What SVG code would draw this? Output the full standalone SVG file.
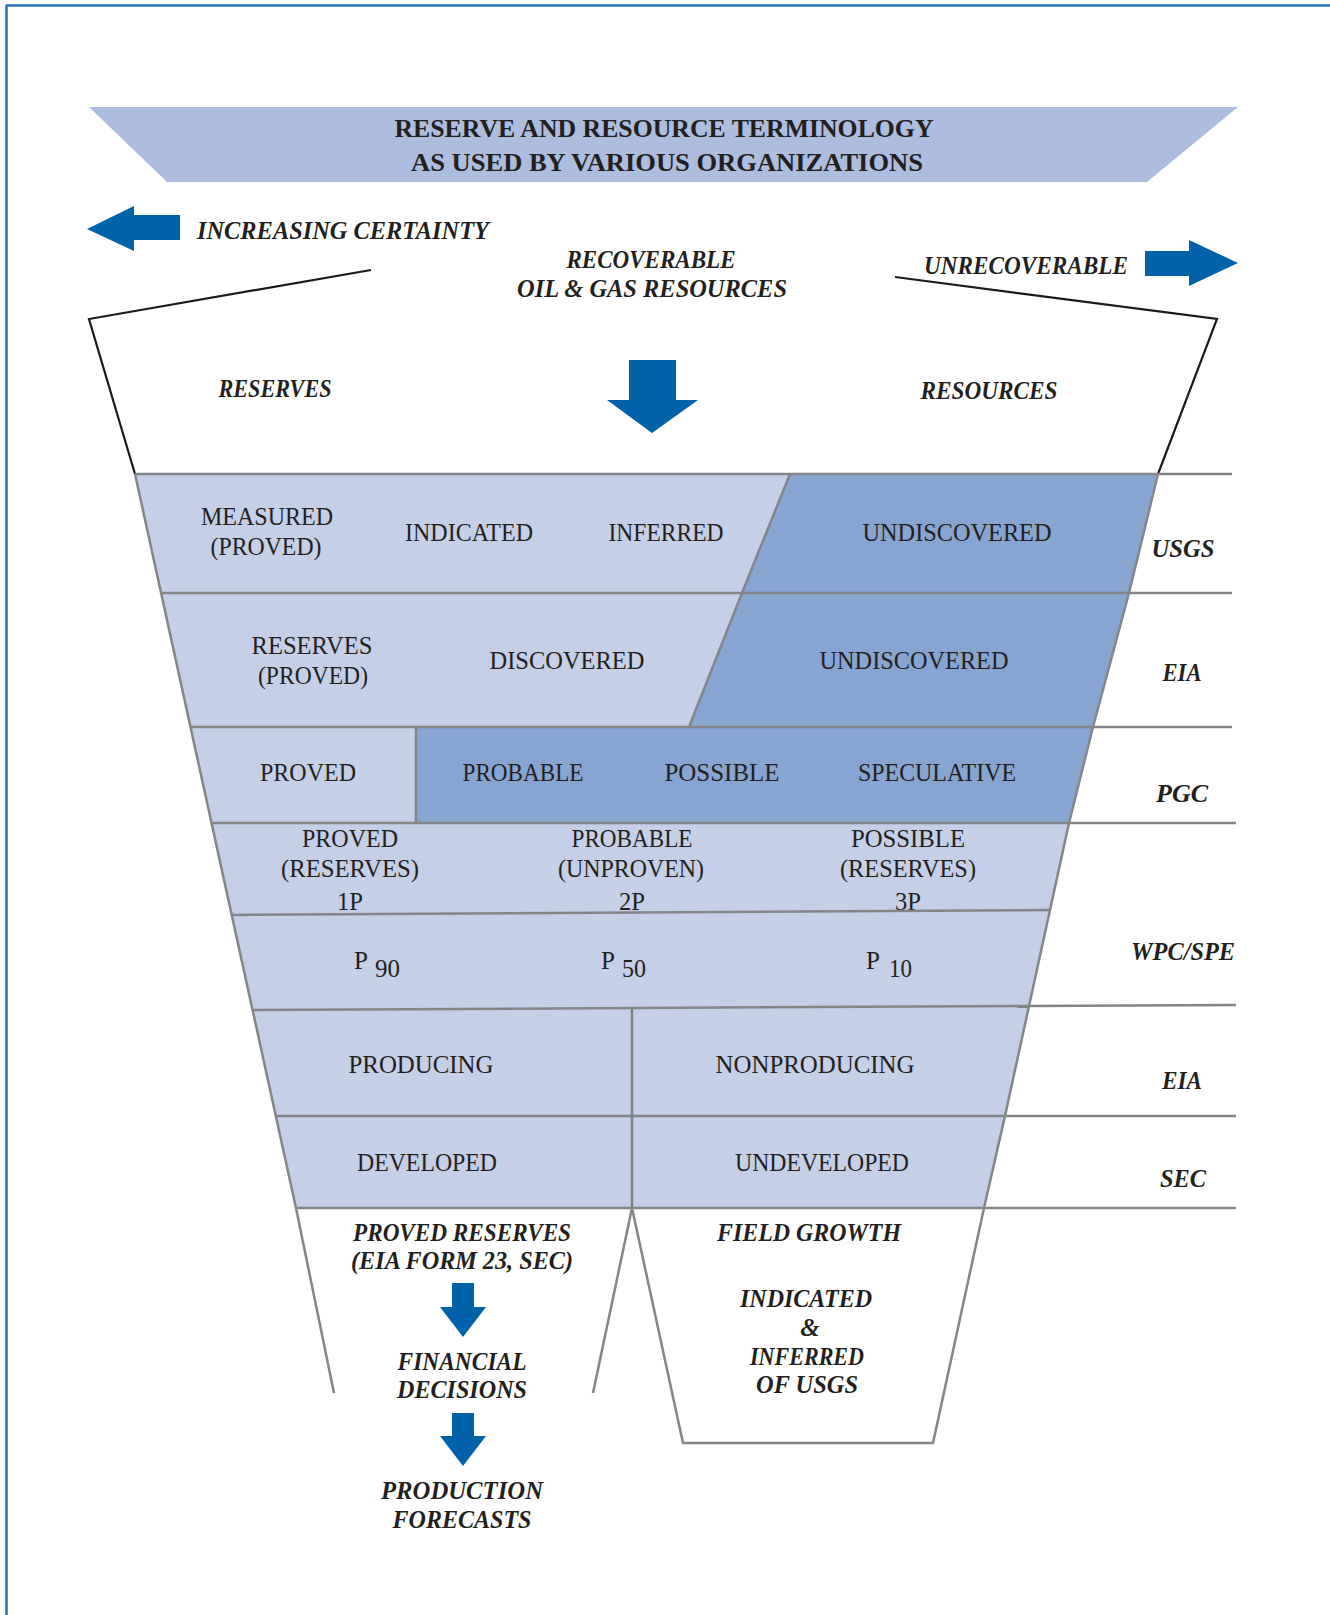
<svg xmlns="http://www.w3.org/2000/svg" width="1330" height="1615" viewBox="0 0 1330 1615">
<style>
.t{font-family:"Liberation Serif","DejaVu Serif",serif;font-size:25px;fill:#231f20;text-anchor:middle}
.i{font-family:"Liberation Serif","DejaVu Serif",serif;font-size:25px;font-weight:bold;font-style:italic;fill:#231f20;text-anchor:middle}
.h{font-family:"Liberation Serif","DejaVu Serif",serif;font-size:25px;font-weight:bold;fill:#231f20;text-anchor:middle}
.lt{fill:#c5cfe8}
.dk{fill:#87a5d1}
.g{fill:none;stroke:#838588;stroke-width:2.5}
.k{fill:none;stroke:#1a1a1a;stroke-width:2.2}
.ar{fill:#0062ab}
</style>
<rect width="1330" height="1615" fill="#ffffff"/>
<g id="frame">
<line x1="6" y1="5.5" x2="1330" y2="5.5" stroke="#2a6fb8" stroke-width="2.5"/>
<line x1="6.5" y1="5" x2="6.5" y2="1615" stroke="#2a6fb8" stroke-width="2.5"/>
</g>
<g id="title">
<polygon points="89,107 1238,107 1147,182 167,182" fill="#adbde0"/>
<text class="h" x="664" y="137" textLength="539" lengthAdjust="spacingAndGlyphs">RESERVE AND RESOURCE TERMINOLOGY</text>
<text class="h" x="667" y="171" textLength="512" lengthAdjust="spacingAndGlyphs">AS USED BY VARIOUS ORGANIZATIONS</text>
</g>
<g id="header">
<polygon class="ar" points="87,229 134,206 134,215 180,215 180,240 134,240 134,251"/>
<text class="i" style="text-anchor:start" x="197" y="239" textLength="292" lengthAdjust="spacingAndGlyphs">INCREASING CERTAINTY</text>
<text class="i" x="651" y="268" textLength="169" lengthAdjust="spacingAndGlyphs">RECOVERABLE</text>
<text class="i" x="652" y="297" textLength="270" lengthAdjust="spacingAndGlyphs">OIL &amp; GAS RESOURCES</text>
<text class="i" x="1026" y="274" textLength="204" lengthAdjust="spacingAndGlyphs">UNRECOVERABLE</text>
<polygon class="ar" points="1145,251 1189,251 1189,240 1238,263 1189,286 1189,276 1145,276"/>
</g>
<g id="funnel-top">
<polyline class="k" points="371,270 89,319 135,474"/>
<polyline class="k" points="895,277 1217,319 1158,474"/>
<text class="i" x="275" y="397" textLength="113" lengthAdjust="spacingAndGlyphs">RESERVES</text>
<text class="i" x="989" y="399" textLength="137" lengthAdjust="spacingAndGlyphs">RESOURCES</text>
<polygon class="ar" points="629,360 676,360 676,400 698,400 652,433 607,400 629,400"/>
</g>
<g id="row-usgs">
<polygon class="lt" points="135,474 790,474 742,593 161,593"/>
<polygon class="dk" points="790,474 1158,474 1129,593 742,593"/>
<line class="g" x1="790" y1="474" x2="742" y2="593"/>
<text class="t" x="267" y="525" textLength="132" lengthAdjust="spacingAndGlyphs">MEASURED</text>
<text class="t" x="266" y="555" textLength="111" lengthAdjust="spacingAndGlyphs">(PROVED)</text>
<text class="t" x="469" y="541" textLength="128" lengthAdjust="spacingAndGlyphs">INDICATED</text>
<text class="t" x="666" y="541" textLength="115" lengthAdjust="spacingAndGlyphs">INFERRED</text>
<text class="t" x="957" y="541" textLength="189" lengthAdjust="spacingAndGlyphs">UNDISCOVERED</text>
<text class="i" x="1183" y="557" textLength="63" lengthAdjust="spacingAndGlyphs">USGS</text>
</g>
<g id="row-eia1">
<polygon class="lt" points="161,593 742,593 689,727 190,727"/>
<polygon class="dk" points="742,593 1129,593 1093,727 689,727"/>
<line class="g" x1="742" y1="593" x2="689" y2="727"/>
<text class="t" x="312" y="654" textLength="121" lengthAdjust="spacingAndGlyphs">RESERVES</text>
<text class="t" x="313" y="684" textLength="110" lengthAdjust="spacingAndGlyphs">(PROVED)</text>
<text class="t" x="567" y="669" textLength="155" lengthAdjust="spacingAndGlyphs">DISCOVERED</text>
<text class="t" x="914" y="669" textLength="189" lengthAdjust="spacingAndGlyphs">UNDISCOVERED</text>
<text class="i" x="1182" y="681" textLength="39" lengthAdjust="spacingAndGlyphs">EIA</text>
</g>
<g id="row-pgc">
<polygon class="lt" points="190,727 416,727 416,823 211,823"/>
<polygon class="dk" points="416,727 1093,727 1069,823 416,823"/>
<line class="g" x1="416" y1="727" x2="416" y2="823"/>
<text class="t" x="308" y="781" textLength="96" lengthAdjust="spacingAndGlyphs">PROVED</text>
<text class="t" x="523" y="781" textLength="121" lengthAdjust="spacingAndGlyphs">PROBABLE</text>
<text class="t" x="722" y="781" textLength="115" lengthAdjust="spacingAndGlyphs">POSSIBLE</text>
<text class="t" x="937" y="781" textLength="158" lengthAdjust="spacingAndGlyphs">SPECULATIVE</text>
<text class="i" x="1182" y="802" textLength="52" lengthAdjust="spacingAndGlyphs">PGC</text>
</g>
<g id="row-wpc">
<polygon class="lt" points="211,823 1069,823 1050,910 231,915"/>
<polygon class="lt" points="231,915 1050,910 1029,1006 252,1010"/>
<text class="t" x="350" y="847" textLength="96" lengthAdjust="spacingAndGlyphs">PROVED</text>
<text class="t" x="350" y="877" textLength="138" lengthAdjust="spacingAndGlyphs">(RESERVES)</text>
<text class="t" x="350" y="910" textLength="26" lengthAdjust="spacingAndGlyphs">1P</text>
<text class="t" x="632" y="847" textLength="121" lengthAdjust="spacingAndGlyphs">PROBABLE</text>
<text class="t" x="631" y="877" textLength="146" lengthAdjust="spacingAndGlyphs">(UNPROVEN)</text>
<text class="t" x="632" y="910" textLength="26" lengthAdjust="spacingAndGlyphs">2P</text>
<text class="t" x="908" y="847" textLength="114" lengthAdjust="spacingAndGlyphs">POSSIBLE</text>
<text class="t" x="908" y="877" textLength="136" lengthAdjust="spacingAndGlyphs">(RESERVES)</text>
<text class="t" x="908" y="910" textLength="26" lengthAdjust="spacingAndGlyphs">3P</text>
<text class="t" style="text-anchor:start" x="354" y="969">P<tspan x="375" y="977" textLength="25" lengthAdjust="spacingAndGlyphs">90</tspan></text>
<text class="t" style="text-anchor:start" x="601" y="969">P<tspan x="622" y="977" textLength="24" lengthAdjust="spacingAndGlyphs">50</tspan></text>
<text class="t" style="text-anchor:start" x="866" y="969">P<tspan x="889" y="977" textLength="23" lengthAdjust="spacingAndGlyphs">10</tspan></text>
<text class="i" x="1183" y="960" textLength="104" lengthAdjust="spacingAndGlyphs">WPC/SPE</text>
</g>
<g id="row-eia2">
<polygon class="lt" points="252,1010 1029,1006 1005,1116 275,1116"/>
<text class="t" x="421" y="1073" textLength="145" lengthAdjust="spacingAndGlyphs">PRODUCING</text>
<text class="t" x="815" y="1073" textLength="199" lengthAdjust="spacingAndGlyphs">NONPRODUCING</text>
<text class="i" x="1182" y="1089" textLength="40" lengthAdjust="spacingAndGlyphs">EIA</text>
</g>
<g id="row-sec">
<polygon class="lt" points="275,1116 1005,1116 984,1208 296,1208"/>
<text class="t" x="427" y="1171" textLength="140" lengthAdjust="spacingAndGlyphs">DEVELOPED</text>
<text class="t" x="822" y="1171" textLength="174" lengthAdjust="spacingAndGlyphs">UNDEVELOPED</text>
<text class="i" x="1183" y="1187" textLength="46" lengthAdjust="spacingAndGlyphs">SEC</text>
</g>
<g id="grid-lines">
<line class="g" x1="135" y1="474" x2="1232" y2="474"/>
<line class="g" x1="161" y1="593" x2="1232" y2="593"/>
<line class="g" x1="190" y1="727" x2="1232" y2="727"/>
<line class="g" x1="211" y1="823" x2="1236" y2="823"/>
<line class="g" x1="231" y1="915" x2="1050" y2="910"/>
<line class="g" x1="252" y1="1010" x2="1029" y2="1006"/>
<line class="g" x1="1029" y1="1006" x2="1236" y2="1005"/>
<line class="g" x1="275" y1="1116" x2="1236" y2="1116"/>
<line class="g" x1="296" y1="1208" x2="1236" y2="1208"/>
<line class="g" x1="632" y1="1008" x2="632" y2="1208"/>
<polyline class="g" points="135,474 296,1208"/>
<polyline class="g" points="1158,474 1129,593 1093,727 1069,823 1050,910 1029,1006 1005,1116 984,1208"/>
</g>
<g id="bottom-left">
<line class="g" x1="296" y1="1208" x2="334" y2="1393"/>
<line class="g" x1="632" y1="1208" x2="593" y2="1393"/>
<text class="i" x="462" y="1241" textLength="218" lengthAdjust="spacingAndGlyphs">PROVED RESERVES</text>
<text class="i" x="462" y="1269" textLength="222" lengthAdjust="spacingAndGlyphs">(EIA FORM 23, SEC)</text>
<text class="i" x="462" y="1370" textLength="129" lengthAdjust="spacingAndGlyphs">FINANCIAL</text>
<text class="i" x="462" y="1398" textLength="130" lengthAdjust="spacingAndGlyphs">DECISIONS</text>
<text class="i" x="462" y="1499" textLength="162" lengthAdjust="spacingAndGlyphs">PRODUCTION</text>
<text class="i" x="462" y="1528" textLength="139" lengthAdjust="spacingAndGlyphs">FORECASTS</text>
</g>
<g id="bottom-right">
<polyline class="g" points="632,1208 683,1443 933,1443 984,1208"/>
<text class="i" x="809" y="1241" textLength="184" lengthAdjust="spacingAndGlyphs">FIELD GROWTH</text>
<text class="i" x="806" y="1307" textLength="132" lengthAdjust="spacingAndGlyphs">INDICATED</text>
<text class="i" x="810" y="1336">&amp;</text>
<text class="i" x="807" y="1365" textLength="114" lengthAdjust="spacingAndGlyphs">INFERRED</text>
<text class="i" x="807" y="1393" textLength="102" lengthAdjust="spacingAndGlyphs">OF USGS</text>
</g>
<g id="connectors">
<polygon class="ar" points="452,1283 474,1283 474,1307 486,1307 463,1337 440,1307 452,1307"/>
<polygon class="ar" points="452,1413 474,1413 474,1436 486,1436 463,1466 440,1436 452,1436"/>
</g>
</svg>
